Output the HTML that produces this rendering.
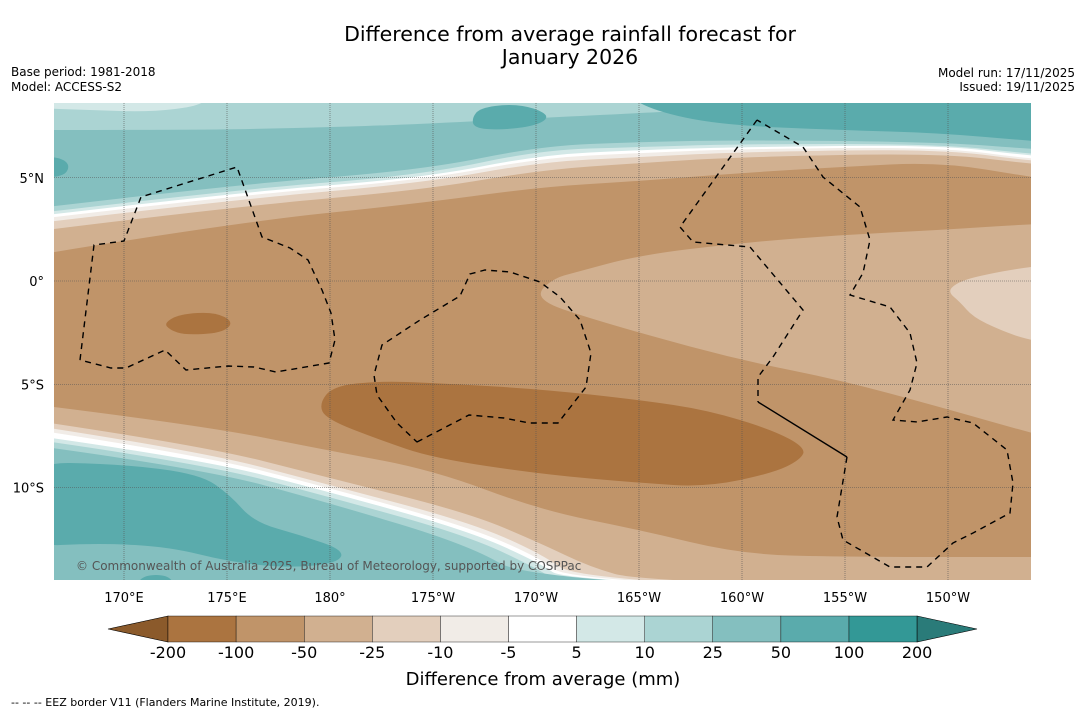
<!DOCTYPE html>
<html><head><meta charset="utf-8">
<style>
body{margin:0;background:#fff;width:1085px;height:713px;overflow:hidden;font-family:"DejaVu Sans","Liberation Sans",sans-serif;}
svg{position:absolute;left:0;top:0}
</style></head>
<body>
<svg id="s" width="1085" height="713" viewBox="0 0 1085 713">
<text x="570" y="41" font-size="20.5" text-anchor="middle">Difference from average rainfall forecast for</text>
<text x="570" y="64" font-size="20.5" text-anchor="middle">January 2026</text>
<text x="11" y="76" font-size="12">Base period: 1981-2018</text>
<text x="11" y="91" font-size="12">Model: ACCESS-S2</text>
<text x="1075" y="77" font-size="12" text-anchor="end">Model run: 17/11/2025</text>
<text x="1075" y="91" font-size="12" text-anchor="end">Issued: 19/11/2025</text>
<defs><clipPath id="mc"><rect x="54" y="103" width="977" height="477"/></clipPath></defs>
<g id="map" clip-path="url(#mc)"></g>
<g id="cb"></g>
<text x="543" y="685" font-size="18" text-anchor="middle">Difference from average (mm)</text>
<text x="11" y="706" font-size="11">--  --  -- EEZ border V11 (Flanders Marine Institute, 2019).</text>
</svg>
<script>
const levels=["-200","-100","-50","-25","-10","-5","5","10","25","50","100","200"];
const binColors=["#ab7440","#c09469","#d1b090","#e3cfbd","#f1ece7","#ffffff","#d3e8e7","#abd4d3","#84bfbf","#5aabac","#339896"];
const lonTicks=["170°E","175°E","180°","175°W","170°W","165°W","160°W","155°W","150°W"];
const lonVals=[170,175,180,185,190,195,200,205,210];
const latTicks=["5°N","0°","5°S","10°S"];
const latVals=[5,0,-5,-10];
const NS="http://www.w3.org/2000/svg";
const s=document.getElementById('s'),map=document.getElementById('map'),cb=document.getElementById('cb');
const xLon=l=>124+(l-170)*20.6, yLat=a=>281-a*20.65;
function mk(tag,at,parent){const e=document.createElementNS(NS,tag);for(const k in at)e.setAttribute(k,at[k]);(parent||s).appendChild(e);return e;}
function pth(pts){return 'M'+pts.map(p=>p.join(',')).join('L');}
function smooth(pts,closed){
  const n=pts.length;let d;
  if(closed){const m=(a,b)=>[(a[0]+b[0])/2,(a[1]+b[1])/2];
    const s0=m(pts[n-1],pts[0]);d='M'+s0.join(',');
    for(let i=0;i<n;i++){const nx=m(pts[i],pts[(i+1)%n]);d+='Q'+pts[i].join(',')+' '+nx.join(',');}
    return d+'Z';}
  d='M'+pts[0].join(',');
  for(let i=1;i<n-1;i++){const nx=[(pts[i][0]+pts[i+1][0])/2,(pts[i][1]+pts[i+1][1])/2];d+='Q'+pts[i].join(',')+' '+nx.join(',');}
  return d+'L'+pts[n-1].join(',');
}
function below(curve,col,name){const d=smooth(curve,false)+'L1090,620L20,620Z';const e=mk('path',{d:d,fill:col},map);

}
function above(curve,col,name){const d=smooth(curve,false)+'L1090,80L20,80Z';const e=mk('path',{d:d,fill:col},map);

}
function poly(pts,col,name){const e=mk('path',{d:smooth(pts,true),fill:col},map);

}
mk('rect',{x:54,y:103,width:977,height:477,fill:binColors[1]},map);
above([[30,256],[231,223],[423,203],[540,187],[640,181],[740,173],[840,167],[940,162],[1031,177],[1090,185]],binColors[2],'north-band-minus50');
above([[30,232],[231,207],[423,190],[540,170],[640,163],[740,157],[940,153],[1031,164],[1090,168]],binColors[3],'north-band-minus25');
above([[30,224],[231,200],[423,183],[540,162],[640,157],[740,152],[940,149],[1031,161],[1090,164]],binColors[4],'north-band-minus10');
above([[30,220],[231,196],[423,180],[540,158],[640,153],[740,149],[940,147],[1031,159],[1090,162]],binColors[5],'north-band-minus5');
above([[30,217],[231,193],[423,178],[540,155],[640,150],[740,147],[940,145],[1031,156],[1090,159]],binColors[6],'north-band-5');
above([[30,214],[231,190],[423,175],[540,150],[640,147],[740,144],[940,144],[1031,154],[1090,157]],binColors[7],'north-band-10');
above([[30,209],[231,185],[423,170],[540,146],[640,142],[740,140],[940,142],[1031,149],[1090,152]],binColors[8],'north-band-25');
above([[30,130],[200,130],[300,128],[400,125],[540,118],[640,113],[700,110],[1090,110]],binColors[7],'north-band-10-top');
poly([[30,95],[210,95],[200,106],[150,112],[90,110],[30,108]],binColors[6],'north-corner-5');
poly([[620,90],[650,110],[720,125],[840,130],[940,133],[1031,141],[1100,145],[1100,90]],binColors[9],'north-patch-50');
poly([[472,118],[480,108],[510,104],[535,108],[550,117],[535,126],[500,130],[474,128]],binColors[9],'north-blob-50');
poly([[40,156],[62,158],[70,166],[64,176],[40,178]],binColors[9],'north-left-blob-50');
poly([[538,292],[555,278],[573,273],[640,255],[740,243],[840,235],[940,230],[1031,224],[1100,222],[1100,450],[1031,433],[940,407],[840,380],[740,360],[640,333],[573,313],[546,303]],binColors[2],'equatorial-tongue-minus50');
poly([[1100,262],[1031,266],[973,277],[955,284],[948,292],[960,302],[973,317],[1000,330],[1031,341],[1100,350]],binColors[3],'east-blob-minus25');
poly([[319,404],[333,386],[380,381],[433,383],[540,389],[640,400],[707,410],[773,430],[806,448],[800,460],[773,473],[707,487],[640,483],[540,474],[433,458],[380,440],[326,419]],binColors[0],'central-blob-minus200');
poly([[164,323],[180,314],[215,312],[234,322],[222,333],[185,335],[170,330]],binColors[0],'west-blob-minus200');
below([[30,404],[200,425],[326,450],[433,470],[540,510],[640,530],[740,554],[840,557],[1090,557]],binColors[2],'south-band-minus50');
below([[30,420],[200,445],[326,477],[469,513],[540,543],[590,567],[640,581],[1090,595]],binColors[3],'south-band-minus25');
below([[30,425],[200,451],[326,484],[469,522],[540,553],[580,581],[1090,600]],binColors[4],'south-band-minus10');
below([[30,429],[200,455],[326,487],[469,527],[540,558],[570,581],[1090,600]],binColors[5],'south-band-minus5');
below([[30,435],[200,459],[326,491],[469,531],[540,563],[565,581],[1090,600]],binColors[6],'south-band-5');
below([[30,439],[200,463],[326,496],[469,536],[540,570],[555,581],[1090,600]],binColors[7],'south-band-10');
below([[30,445],[200,468],[326,502],[469,545],[530,581],[1090,600]],binColors[8],'south-band-25');
poly([[20,462],[120,464],[200,474],[230,495],[254,522],[300,535],[344,550],[338,563],[290,568],[230,562],[170,547],[100,543],[20,547]],binColors[9],'south-patch-50');
poly([[135,590],[142,575],[170,575],[175,590]],binColors[9],'south-small-50');
lonVals.forEach((l,i)=>{const x=xLon(l);
const g=mk('line',{x1:x,y1:103,x2:x,y2:580,stroke:'#555','stroke-width':0.6,'stroke-dasharray':'1,1'});


const t=mk('text',{x:x,y:602,'font-size':13,'text-anchor':'middle'});t.textContent=lonTicks[i];

});
latVals.forEach((a,i)=>{const y=yLat(a);
const g=mk('line',{x1:54,y1:y,x2:1031,y2:y,stroke:'#555','stroke-width':0.6,'stroke-dasharray':'1,1'});


const t=mk('text',{x:44,y:y+5,'font-size':13,'text-anchor':'end'});t.textContent=latTicks[i];

});
const eez=[
[[80,360],[94,245],[124,241],[141,197],[237,167],[262,237],[290,248],[308,260],[322,290],[331,313],[335,340],[329,363],[276,372],[254,367],[228,366],[186,370],[165,350],[126,368],[111,368],[80,360]],
[[417,442],[469,415],[504,418],[529,423],[558,423],[586,387],[591,353],[580,320],[560,297],[540,282],[510,272],[485,270],[470,274],[460,296],[420,320],[382,345],[374,375],[377,395],[397,423],[417,442]],
[[757,120],[680,227],[693,242],[750,247],[803,310],[773,357],[758,377],[758,402]],
[[847,457],[837,517],[843,540],[890,567],[927,567],[953,543],[973,533],[1010,513],[1013,483],[1007,450],[973,423],[947,417],[917,422],[893,420],[910,390],[917,363],[910,333],[890,307],[850,295],[863,273],[870,240],[860,207],[823,177],[803,147],[757,120]]];
eez.forEach((p,i)=>{const e=mk('path',{d:pth(p),fill:'none',stroke:'#000','stroke-width':1.4,'stroke-dasharray':'6,5'});

});
const sl=mk('path',{d:'M758,402L847,457',stroke:'#000','stroke-width':1.4,fill:'none'});


const cr=mk('text',{x:76,y:570,'font-size':12,fill:'#555'});cr.textContent='© Commonwealth of Australia 2025, Bureau of Meteorology, supported by COSPPac';


const cx0=168,cw=68.1,cy=616,ch=26;
const lt=mk('path',{d:`M${cx0},${cy}L108,${cy+ch/2}L${cx0},${cy+ch}Z`,fill:'#8b5a2b',stroke:'#000','stroke-width':0.6},cb);


binColors.forEach((c,i)=>{const r=mk('rect',{x:cx0+i*cw,y:cy,width:cw,height:ch,fill:c,stroke:'#000','stroke-width':0.4},cb);

});
const xe=cx0+binColors.length*cw;
const rt=mk('path',{d:`M${xe},${cy}L977,${cy+ch/2}L${xe},${cy+ch}Z`,fill:'#2a7b79',stroke:'#000','stroke-width':0.6},cb);


levels.forEach((l,i)=>{const t=mk('text',{x:cx0+i*cw,y:658,'font-size':16,'text-anchor':'middle'},cb);t.textContent=l;

});
</script>
</body></html>
